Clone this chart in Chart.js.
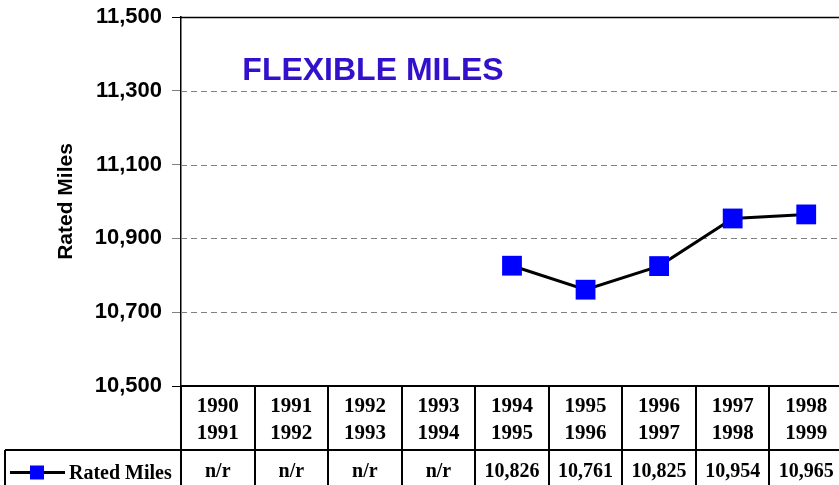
<!DOCTYPE html>
<html>
<head>
<meta charset="utf-8">
<title>Flexible Miles</title>
<script src="https://cdn.jsdelivr.net/npm/chart.js@4/dist/chart.umd.min.js"></script>
<style>
  html, body { margin: 0; padding: 0; background: #fff; overflow: hidden; }
  #wrap { width: 857px; height: 485px; }
</style>
</head>
<body>
<div id="wrap"><canvas id="milesChart" width="857" height="485"></canvas></div>
<script>
// --- Data ---
const periodStart = ['1990', '1991', '1992', '1993', '1994', '1995', '1996', '1997', '1998'];
const periodEnd = ['1991', '1992', '1993', '1994', '1995', '1996', '1997', '1998', '1999'];
const ratedMiles = [null, null, null, null, 10826, 10761, 10825, 10954, 10965];
const yTicks = [10500, 10700, 10900, 11100, 11300, 11500];
const seriesName = 'Rated Miles';
const chartTitle = 'FLEXIBLE MILES';

const SANS = '"Liberation Sans", Arial, sans-serif';
const SERIF = '"Liberation Serif", "Times New Roman", serif';
const MARKER = '#0000FF';

const fmt = v => v == null ? 'n/r' : v.toLocaleString('en-US');

// --- Grid lines: solid top edge, dashed grey between ---
const gridPlugin = {
    id: 'dashedGrid',
    beforeDatasetsDraw(chart) {
        const { ctx, chartArea: a, scales: { y } } = chart;
        ctx.save();
        y.ticks.forEach(t => {
            if (t.value === y.min) return;
            const py = Math.round(y.getPixelForValue(t.value)) + 0.5;
            const edge = t.value === y.max;
            ctx.strokeStyle = edge ? '#000' : '#808080';
            ctx.lineWidth = edge ? 1.5 : 1;
            ctx.setLineDash(edge ? [] : [6, 4]);
            ctx.beginPath();
            ctx.moveTo(a.left, py);
            ctx.lineTo(a.right, py);
            ctx.stroke();
        });
        ctx.restore();
    }
};

// --- Title inside the plot ---
const titlePlugin = {
    id: 'innerTitle',
    afterDraw(chart) {
        const { ctx, chartArea: a } = chart;
        ctx.save();
        ctx.fillStyle = '#3311CC';
        ctx.font = 'bold 32px ' + SANS;
        ctx.textAlign = 'center';
        ctx.textBaseline = 'alphabetic';
        ctx.fillText(chartTitle, a.left + 192, a.top + 63);
        ctx.restore();
    }
};

// --- Data table under the x axis ---
const tablePlugin = {
    id: 'dataTable',
    afterDraw(chart) {
        const { ctx, chartArea: a, scales: { x } } = chart;
        const n = periodStart.length;
        const colW = (a.right - a.left) / n;
        const top = a.bottom;
        const mid = top + 64;
        const bottom = chart.height;
        const line = (x1, y1, x2, y2) => {
            ctx.beginPath();
            ctx.moveTo(x1, y1);
            ctx.lineTo(x2, y2);
            ctx.stroke();
        };

        ctx.save();
        ctx.strokeStyle = '#000';
        ctx.lineWidth = 2;
        line(a.left, top, a.right, top);
        line(5, mid, a.right, mid);
        line(5, mid, 5, bottom);
        for (let i = 0; i <= n; i++) {
            const px = Math.round(a.left + i * colW);
            line(px, top, px, bottom);
        }

        ctx.fillStyle = '#000';
        ctx.textAlign = 'center';
        ctx.textBaseline = 'alphabetic';
        periodStart.forEach((s, i) => {
            const cx = x.getPixelForValue(i);
            ctx.font = 'bold 21px ' + SERIF;
            ctx.fillText(s, cx, top + 26);
            ctx.fillText(periodEnd[i], cx, top + 53);
            ctx.font = 'bold 20px ' + SERIF;
            ctx.fillText(fmt(ratedMiles[i]), cx, mid + 27);
        });

        // legend key
        const ky = mid + 22.5;
        ctx.lineWidth = 3;
        line(10, ky, 65, ky);
        ctx.fillStyle = MARKER;
        ctx.fillRect(30, ky - 7, 14, 14);
        ctx.fillStyle = '#000';
        ctx.textAlign = 'left';
        ctx.font = 'bold 20px ' + SERIF;
        ctx.fillText(seriesName, 69, mid + 29);
        ctx.restore();
    }
};

new Chart(document.getElementById('milesChart'), {
    type: 'line',
    data: {
        labels: periodStart.map((s, i) => s + '-' + periodEnd[i]),
        datasets: [{
            label: seriesName,
            data: ratedMiles,
            borderColor: '#000',
            borderWidth: 3,
            pointStyle: 'rect',
            pointRadius: 14,
            pointHoverRadius: 14,
            pointBackgroundColor: MARKER,
            pointBorderColor: MARKER,
            pointBorderWidth: 0,
            tension: 0
        }]
    },
    options: {
        responsive: false,
        animation: false,
        layout: { padding: { left: 0, top: 17, right: 2, bottom: 99 } },
        plugins: { legend: { display: false }, tooltip: { enabled: false } },
        scales: {
            x: {
                offset: true,
                ticks: { display: false, callback: () => '' },
                grid: { display: false },
                border: { display: true, color: '#000', width: 1.5 },
                afterFit: s => {
                    s.height = 0;
                    s.paddingLeft = 0;
                    s.paddingRight = 0;
                }
            },
            y: {
                min: yTicks[0],
                max: yTicks[yTicks.length - 1],
                ticks: {
                    stepSize: yTicks[1] - yTicks[0],
                    padding: 10,
                    color: '#000',
                    font: { family: SANS, size: 22, weight: 'bold' },
                    callback: v => v.toLocaleString('en-US')
                },
                grid: {
                    drawOnChartArea: false,
                    drawTicks: true,
                    tickLength: 9,
                    color: c => (c.tick.value === yTicks[0] || c.tick.value === yTicks[yTicks.length - 1]) ? '#000' : '#808080'
                },
                border: { display: true, color: '#000', width: 1.5 },
                title: {
                    display: true,
                    text: seriesName,
                    color: '#000',
                    padding: { top: 54, bottom: 0 },
                    font: { family: SANS, size: 21, weight: 'bold' }
                },
                afterFit: s => {
                    s.width = 181;
                    s.paddingTop = 0;
                    s.paddingBottom = 0;
                }
            }
        }
    },
    plugins: [gridPlugin, titlePlugin, tablePlugin]
});
</script>
</body>
</html>
